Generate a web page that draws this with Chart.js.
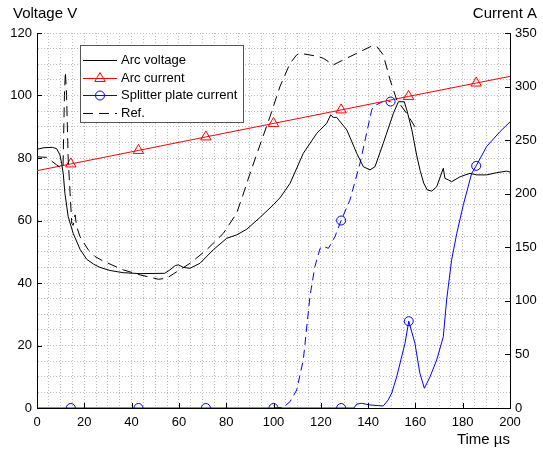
<!DOCTYPE html>
<html><head><meta charset="utf-8">
<script src="https://cdn.jsdelivr.net/npm/chart.js@4.4.0/dist/chart.umd.min.js"></script>
<style>html,body{margin:0;padding:0;background:#fff}</style>
</head><body>
<canvas id="c" width="543" height="450"></canvas>
<script>
// ---- data ----
const arcVoltageT = [0,3,6.5,8.3,9.7,10.4,11.1,11.8,13.2,15.3,18.2,21,24,26.6,30.9,36.5,43.6,54,56.2,58.5,59.8,61.9,64.7,68.9,74.5,80.2,84.4,88.7,94.3,99.9,103,107,112.6,118.3,122.5,124.2,125.3,126.7,131,135.2,138,140.8,142.9,146.4,150.7,152.8,155.3,156.5,158.5,160.5,162,163.5,165,166.9,169,171.8,172.5,173.9,175.3,178.9,183.1,185.9,190.1,194.4,198.6,200];
const arcVoltageV = [82.8,83.3,83.4,83,81,78.3,75,68.7,61.2,55.9,50.8,47.6,46,45,44,43.3,43,43.1,44.2,45.6,45.8,45,44.7,46.3,50.6,54.3,55.4,57.2,61,65,67.5,71.9,81.5,87.9,91.1,93.8,93,93,89,81.5,77.2,76.2,77.2,84.7,94.3,98,98,95,89,81,76,72,69.8,69.4,70.8,76.7,73.5,73,72.4,74,75.1,74.6,74.6,75.3,75.8,75.5];

const refVoltageT = [0,4.1,8.3,10.4,11,11.6,12,12.5,13.2,14,14.7,15.3,16.1,16.8,18.2,21.7,24.5,28,36.5,43.6,51.3,54.8,59.1,64.7,71.7,78.8,84.4,87,90.1,94.3,98.5,102.7,107,109.8,111.2,118.3,121.1,125.3,129.5,135.2,141.5,143.6,146.4,149.3,152.1,156.3,159.8];
const refVoltageV = [80.4,80.2,77.8,76.7,77,100,107.6,100,79.4,68.7,59.1,58.5,61.8,58,54.8,50.6,48.5,47,44.2,42.6,41.2,41.5,43.6,46.3,50.6,55.9,62.3,68,75.1,84.2,93.2,102.8,110.3,113,113.5,112.6,111.9,109.8,111.4,113.5,115.8,115.8,113,105,98.6,94.3,90];

const arcCurrentT = [0,14.3,42.9,71.4,100,128.6,157.1,185.7,200];
const arcCurrentA = [221.5,227.8,240.4,253,265.6,278.2,290.8,303.3,309.5];

const splitterT = [0,14.3,42.9,71.4,100,128.6,134,135.2,137.3,140.8,146.4,148.5,150,152.1,155.6,157.2,159.8,161.9,163.8,166.2,169,171.8,173.2,175.3,177.5,180.3,183.8,185.7,190.1,195.8,200];
const splitterA = [0,0,0,0,0,0,0,3.7,4.4,2.8,1.9,7.5,14,29.2,60.4,81,60.4,32.4,18.4,29.2,44.8,66.5,100.8,138,163,190,219,226,244,258,267];

const splitterRefT = [100,104,107,109.8,112.6,115.4,117.5,119.7,121,123.2,126,128.6,132.3,136.6,141.5,142.2,143.5,146.3,149.5];
const splitterRefA = [0,0.5,5.9,16.8,44.8,104,132,149,151,149,160,175,194,228.6,278,281,283,286,286];

const arcCurrentMarkers = [14.3,42.9,71.4,100,128.6,157.1,185.7];
const splitterMarkers = [14.3,42.9,71.4,100,128.6,157.2,185.7];
const splitterRefMarkers = [128.6,149.5];

const xTicks = [0,20,40,60,80,100,120,140,160,180,200];
const yTicks = [0,20,40,60,80,100,120];
const y1Ticks = [0,50,100,150,200,250,300,350];

const legendItems = ['Arc voltage','Arc current','Splitter plate current','Ref.'];

// ---- helpers ----
const pts = (t, v) => t.map((x, i) => ({x: x, y: v[i]}));
const markerRadius = (list, r) => (ctx) => (ctx.raw && list.includes(ctx.raw.x)) ? r : 0;
const FONT = '"Liberation Sans", Arial, Helvetica, sans-serif';
const GRID = '#bdbdbd';

const decor = {
  id: 'decor',
  afterDraw(chart) {
    const ctx = chart.ctx, a = chart.chartArea;
    const sx = chart.scales.x, sy = chart.scales.y, sy1 = chart.scales.y1;
    ctx.save();
    ctx.strokeStyle = '#000'; ctx.lineWidth = 1; ctx.setLineDash([]);
    ctx.beginPath();
    xTicks.forEach(v => { const p = Math.round(sx.getPixelForValue(v)) + 0.5; ctx.moveTo(p, a.bottom); ctx.lineTo(p, a.bottom - 5); });
    yTicks.forEach(v => { const p = Math.round(sy.getPixelForValue(v)) + 0.5; ctx.moveTo(a.left, p); ctx.lineTo(a.left + 5, p); });
    y1Ticks.forEach(v => { const p = Math.round(sy1.getPixelForValue(v)) + 0.5; ctx.moveTo(a.right, p); ctx.lineTo(a.right - 5, p); });
    ctx.stroke();

    // axis titles
    ctx.fillStyle = '#000';
    ctx.font = '15px ' + FONT;
    ctx.textBaseline = 'alphabetic';
    ctx.textAlign = 'left'; ctx.fillText('Voltage V', 13, 17.5);
    ctx.textAlign = 'right'; ctx.fillText('Current A', 537, 17.5);
    ctx.fillText('Time µs', 510, 443.5);

    // legend
    const bx = 80.5, by = 45.5, bw = 163, bh = 77;
    ctx.fillStyle = '#fff'; ctx.fillRect(bx, by, bw, bh);
    ctx.strokeStyle = '#555'; ctx.strokeRect(bx, by, bw, bh);
    const rows = [60, 77.5, 95, 112.5];
    const styles = [
      {c: '#000', dash: [], m: null},
      {c: '#f00', dash: [], m: 'tri'},
      {c: '#00f', dash: [], m: 'circ'},
      {c: '#000', dash: [10, 6], m: null}
    ];
    ctx.font = '13px ' + FONT;
    ctx.textBaseline = 'middle'; ctx.textAlign = 'left';
    rows.forEach((y, i) => {
      const s = styles[i];
      ctx.strokeStyle = s.c; ctx.lineWidth = 1; ctx.setLineDash(s.dash);
      ctx.beginPath(); ctx.moveTo(83, Math.round(y) + 0.5); ctx.lineTo(117, Math.round(y) + 0.5); ctx.stroke();
      ctx.setLineDash([]);
      const cx = 100, cy = Math.round(y) + 0.5;
      if (s.m === 'tri') {
        const r = 6; ctx.beginPath();
        ctx.moveTo(cx, cy - r); ctx.lineTo(cx + r * 0.866, cy + r * 0.5); ctx.lineTo(cx - r * 0.866, cy + r * 0.5); ctx.closePath(); ctx.stroke();
      } else if (s.m === 'circ') {
        ctx.beginPath(); ctx.arc(cx, cy, 4.5, 0, Math.PI * 2); ctx.stroke();
      }
      ctx.fillStyle = '#000';
      ctx.fillText(legendItems[i], 121, y + 0.5);
    });
    ctx.restore();
  }
};

const tickFont = {family: FONT, size: 13};

new Chart(document.getElementById('c'), {
  type: 'line',
  data: {
    datasets: [
      {label: legendItems[0], data: pts(arcVoltageT, arcVoltageV), yAxisID: 'y', borderColor: '#000', borderWidth: 1, pointRadius: 0, tension: 0},
      {label: legendItems[3], data: pts(refVoltageT, refVoltageV), yAxisID: 'y', borderColor: '#000', borderWidth: 1, borderDash: [10, 6], pointRadius: 0, tension: 0},
      {label: legendItems[1], data: pts(arcCurrentT, arcCurrentA), yAxisID: 'y1', borderColor: '#f00', borderWidth: 1, tension: 0,
       pointStyle: 'triangle', pointRadius: markerRadius(arcCurrentMarkers, 6), pointBorderColor: '#f00', pointBackgroundColor: 'rgba(0,0,0,0)', pointBorderWidth: 1},
      {label: 'Splitter plate current ref', data: pts(splitterRefT, splitterRefA), yAxisID: 'y1', borderColor: '#00f', borderWidth: 1, borderDash: [8, 5], tension: 0,
       pointStyle: 'circle', pointRadius: markerRadius(splitterRefMarkers, 4.5), pointBorderColor: '#00f', pointBackgroundColor: 'rgba(0,0,0,0)', pointBorderWidth: 1},
      {label: legendItems[2], data: pts(splitterT, splitterA), yAxisID: 'y1', borderColor: '#00f', borderWidth: 1, tension: 0,
       pointStyle: 'circle', pointRadius: markerRadius(splitterMarkers, 4.5), pointBorderColor: '#00f', pointBackgroundColor: 'rgba(0,0,0,0)', pointBorderWidth: 1}
    ]
  },
  options: {
    responsive: false,
    animation: false,
    events: [],
    layout: {padding: {top: 33, left: 0, right: 0, bottom: 0}},
    plugins: {legend: {display: false}, tooltip: {enabled: false}},
    scales: {
      x: {
        type: 'linear', min: 0, max: 200,
        afterFit: s => { s.height = 42; },
        ticks: {stepSize: 5, autoSkip: false, maxRotation: 0, padding: 7, color: '#000', font: tickFont,
                callback: v => (v % 20 === 0 ? String(v) : '')},
        grid: {color: GRID, lineWidth: 1, drawTicks: false},
        border: {display: true, color: '#000', width: 1, dash: [1, 2]}
      },
      y: {
        type: 'linear', position: 'left', min: 0, max: 120,
        afterFit: s => { s.width = 37; },
        ticks: {stepSize: 5, autoSkip: false, padding: 5, color: '#000', font: tickFont,
                callback: v => (v % 20 === 0 ? String(v) : '')},
        grid: {color: GRID, lineWidth: 1, drawTicks: false},
        border: {display: true, color: '#000', width: 1, dash: [1, 2]}
      },
      y1: {
        type: 'linear', position: 'right', min: 0, max: 350,
        afterFit: s => { s.width = 33; },
        ticks: {stepSize: 50, autoSkip: false, padding: 5, color: '#000', font: tickFont},
        grid: {drawOnChartArea: false, drawTicks: false},
        border: {display: true, color: '#000', width: 1}
      }
    }
  },
  plugins: [decor]
});
</script>
</body></html>
